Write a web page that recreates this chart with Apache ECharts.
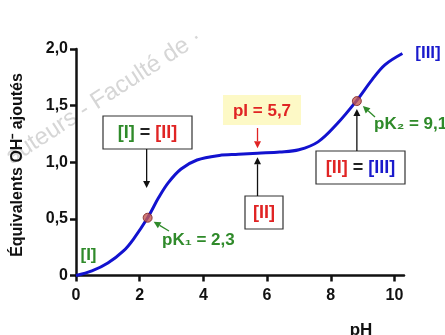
<!DOCTYPE html>
<html>
<head>
<meta charset="utf-8">
<script src="https://cdn.jsdelivr.net/npm/echarts@6/dist/echarts.min.js"></script>
<style>
  html, body { margin: 0; padding: 0; background: #fff; }
  #chart { width: 445px; height: 335px; }
</style>
</head>
<body>
<div id="chart"></div>
<script>
// titration curve
const phValues = [0, 0.5, 1, 1.5, 1.8, 2.25, 2.6, 2.9, 3.3, 3.8, 4.5, 5.1, 5.7, 6.4, 7.0, 7.6, 8.2, 8.8, 9.3, 9.7, 10.25];
const eqValues = [0, 0.04, 0.11, 0.22, 0.32, 0.51, 0.69, 0.82, 0.94, 1.02, 1.06, 1.07, 1.08, 1.09, 1.11, 1.18, 1.34, 1.54, 1.73, 1.86, 1.96];
// pK points
const pkValues = [2.25, 8.82];
const pkEq = [0.51, 1.54];
const xTicks = [0, 2, 4, 6, 8, 10];
const yTicks = [0, 0.5, 1, 1.5, 2];

const GREEN = "#2f8a2a";
const RED = "#e02424";
const BLUE = "#1a1acc";
const FONT = "Liberation Sans, Arial, sans-serif";

let chart = echarts.init(document.getElementById("chart"));

let curve = phValues.map((x, i) => [x, eqValues[i]]);
let points = pkValues.map((x, i) => [x, pkEq[i]]);

function arrow(x1, y1, x2, y2, color) {
  let a = Math.atan2(y2 - y1, x2 - x1);
  let len = 7, w = 3.5;
  let bx = x2 - len * Math.cos(a), by = y2 - len * Math.sin(a);
  let px = -Math.sin(a) * w, py = Math.cos(a) * w;
  return [
    { type: "line", shape: { x1: x1, y1: y1, x2: bx, y2: by }, style: { stroke: color, lineWidth: 1.3 }, z: 10 },
    { type: "polygon", shape: { points: [[x2, y2], [bx + px, by + py], [bx - px, by - py]] }, style: { fill: color }, z: 10 }
  ];
}

function box(x, y, w, h, text) {
  let f = "bold 18px " + FONT;
  return [
    { type: "rect", shape: { x: x, y: y, width: w, height: h }, style: { fill: "#fff", stroke: "#333", lineWidth: 1.2 }, z: 9 },
    {
      type: "text", x: x + w / 2, y: y + h / 2 + 1, z: 10,
      style: {
        text: text, align: "center", verticalAlign: "middle", font: f,
        rich: {
          g: { fill: GREEN, font: f },
          r: { fill: RED, font: f },
          b: { fill: BLUE, font: f },
          k: { fill: "#222", font: f }
        }
      }
    }
  ];
}

function label(x, y, text, color, align) {
  return {
    type: "text", x: x, y: y, z: 10,
    style: { text: text, fill: color, align: align || "center", verticalAlign: "middle", font: "bold 17px " + FONT }
  };
}

let option = {
  animation: false,
  grid: { left: 76, right: 41, top: 49, bottom: 59.5 },
  xAxis: {
    type: "value",
    min: 0,
    max: 10.3,
    interval: 2,
    axisLine: { show: true, onZero: false, lineStyle: { color: "#111", width: 2.5 } },
    axisTick: { show: true, length: 6, customValues: xTicks, lineStyle: { color: "#111", width: 2.5 } },
    axisLabel: { customValues: xTicks, margin: 12, color: "#111", fontSize: 16, fontWeight: "bold", fontFamily: FONT },
    splitLine: { show: false }
  },
  yAxis: {
    type: "value",
    min: 0,
    max: 2,
    interval: 0.5,
    axisLine: { show: true, lineStyle: { color: "#111", width: 2.5 } },
    axisTick: { show: true, length: 6, customValues: yTicks, lineStyle: { color: "#111", width: 2.5 } },
    axisLabel: {
      customValues: yTicks,
      margin: 8,
      color: "#111", fontSize: 16, fontWeight: "bold", fontFamily: FONT,
      formatter: v => (v === 0 ? "0" : v.toFixed(1).replace(".", ","))
    },
    splitLine: { show: false }
  },
  series: [
    {
      type: "line",
      data: curve,
      smooth: 0.35,
      showSymbol: false,
      lineStyle: { color: "#1212cf", width: 3 },
      z: 3
    },
    {
      type: "scatter",
      data: points,
      symbolSize: 9,
      itemStyle: { color: "#c65a52", borderColor: "#7a2020", borderWidth: 1 },
      z: 4
    }
  ]
};
chart.setOption(option);

// annotations, tips placed from data coordinates
let pk1 = chart.convertToPixel({ gridIndex: 0 }, points[0]);
let pk2 = chart.convertToPixel({ gridIndex: 0 }, points[1]);
let pI = chart.convertToPixel({ gridIndex: 0 }, [5.7, 1.08]);

let g = [];
// watermark
g.push({
  type: "group", x: 97, y: 110, rotation: 0.575, z: 0,
  children: [
    { type: "text", x: 0, y: 5, style: { text: "auteurs - ", align: "right", verticalAlign: "bottom", fill: "#d6d6d6", font: "24px " + FONT } },
    { type: "text", x: 0, y: 5, style: { text: "Faculté de ·", align: "left", verticalAlign: "bottom", fill: "#d6d6d6", font: "24px " + FONT } }
  ]
});
// y axis title
g.push({
  type: "text", x: 18, y: 165, rotation: Math.PI / 2, z: 10,
  style: { text: "Équivalents OH⁻ ajoutés", align: "center", verticalAlign: "middle", fill: "#111", font: "bold 16px " + FONT }
});
// [I] = [II]
g = g.concat(box(103, 116, 89, 33, "{g|[I]} {k|=} {r|[II]}"));
g = g.concat(arrow(pk1[0] - 1, 149, pk1[0] - 1, 188, "#111"));
// pI
g.push({ type: "rect", shape: { x: 223, y: 95, width: 78, height: 30 }, style: { fill: "#fdf9c6" }, z: 8 });
g.push(label(262, 111, "pI = 5,7", RED));
g = g.concat(arrow(pI[0], 128, pI[0], pI[1] - 5, RED));
// [II]
g = g.concat(box(245, 196, 38, 33, "{r|[II]}"));
g = g.concat(arrow(pI[0], 196, pI[0], pI[1] + 4, "#111"));
// [II] = [III]
g = g.concat(box(316, 151, 89, 33, "{r|[II]} {k|=} {b|[III]}"));
g = g.concat(arrow(pk2[0], 151, pk2[0], pk2[1] + 8, "#111"));
// pK labels
g.push(label(374, 124, "pK₂ = 9,1", GREEN, "left"));
g = g.concat(arrow(375, 117, pk2[0] + 6, pk2[1] + 5, GREEN));
g.push(label(162, 240, "pK₁ = 2,3", GREEN, "left"));
g = g.concat(arrow(169, 231, pk1[0] + 6, pk1[1] + 4, GREEN));
// species
g.push(label(88.5, 255, "[I]", GREEN));
g.push(label(428, 53, "[III]", BLUE));
g.push(label(361, 330, "pH", "#111"));

chart.setOption({ graphic: g });
</script>
</body>
</html>
